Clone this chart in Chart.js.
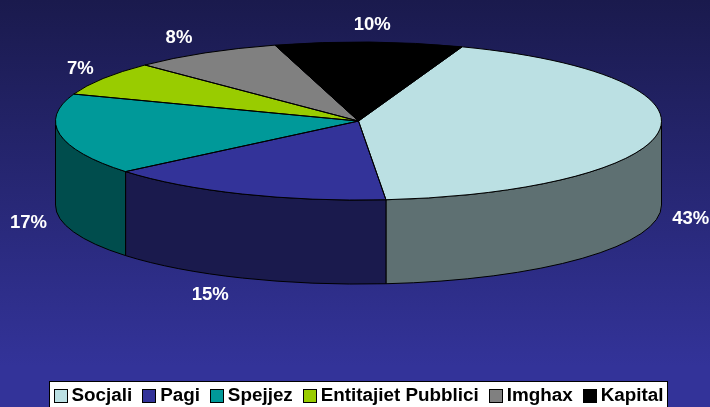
<!DOCTYPE html>
<html>
<head>
<meta charset="utf-8">
<style>
    html, body { margin: 0; padding: 0; width: 710px; height: 407px; overflow: hidden; }
    body { background: linear-gradient(to bottom, #1a1a4d 0%, #333399 90%); }
    /* taller than the window so the pie centre lands high up, legend runs off the bottom */
    #chartBox { position: absolute; left: 0; top: -134px; width: 710px; height: 549px; }
</style>
<script src="https://cdn.jsdelivr.net/npm/chart.js@4.4.0/dist/chart.umd.min.js"></script>
</head>
<body>
<div id="chartBox"><canvas id="budgetChart"></canvas></div>
<script>
// Chart data
const categories = ['Socjali', 'Pagi', 'Spejjez', 'Entitajiet Pubblici', 'Imghax', 'Kapital'];
const shares = [43, 15.4, 16.6, 7, 8, 10];
const sliceColors = ['#BBE0E3', '#333399', '#009999', '#99CC00', '#808080', '#000000'];
const sideColors = ['#5E7072', '#1A1A4D', '#004D4D', '#4D6600', '#404040', '#000000'];

// Look of the tilted pie
const tilt = 79 / 303;
const depth = 84;
const pieRadius = 303;
const labelShift = [0, -20, 0, 4, -10, 2];
const swatchSize = 13;

function sliceOutline(ctx, arc) {
    const ry = arc.outerRadius * tilt;
    ctx.beginPath();
    ctx.moveTo(arc.x, arc.y);
    ctx.ellipse(arc.x, arc.y, arc.outerRadius, ry, 0, arc.startAngle, arc.endAngle);
    ctx.closePath();
}

// Squash the pie and draw the wall under it
const tiltPlugin = {
    id: 'tiltPlugin',
    beforeDatasetsDraw(chart) {
        const ctx = chart.ctx;
        const arcs = chart.getDatasetMeta(0).data;

        arcs.forEach((arc, i) => {
            const from = Math.max(arc.startAngle, 0);
            const to = Math.min(arc.endAngle, Math.PI);
            if (to <= from) return;
            const ry = arc.outerRadius * tilt;
            ctx.beginPath();
            ctx.ellipse(arc.x, arc.y, arc.outerRadius, ry, 0, from, to);
            ctx.ellipse(arc.x, arc.y + depth, arc.outerRadius, ry, 0, to, from, true);
            ctx.closePath();
            ctx.fillStyle = sideColors[i];
            ctx.fill();
            ctx.strokeStyle = '#000';
            ctx.lineWidth = 1;
            ctx.stroke();
        });

        const first = arcs[0];
        ctx.save();
        ctx.translate(first.x, first.y);
        ctx.scale(1, tilt);
        ctx.translate(-first.x, -first.y);
    },
    afterDatasetsDraw(chart) {
        const ctx = chart.ctx;
        ctx.restore();
        chart.getDatasetMeta(0).data.forEach(arc => {
            sliceOutline(ctx, arc);
            ctx.strokeStyle = '#000';
            ctx.lineWidth = 1;
            ctx.stroke();
        });
    }
};

// White box behind the legend, and the legend squares closer to their text
const legendBoxPlugin = {
    id: 'legendBoxPlugin',
    beforeDraw(chart) {
        const ctx = chart.ctx;
        const legend = chart.legend;
        const boxes = legend.legendHitBoxes;
        const left = Math.round(boxes[0].left - 5);
        const last = boxes[boxes.length - 1];
        const right = Math.round(last.left + last.width + 4);
        const top = Math.round(legend.top + 5);
        ctx.fillStyle = '#fff';
        ctx.strokeStyle = '#000';
        ctx.lineWidth = 1;
        ctx.fillRect(left, top, right - left, legend.height);
        ctx.strokeRect(left + 0.5, top + 0.5, right - left, legend.height);
    },
    afterDraw(chart) {
        const ctx = chart.ctx;
        chart.legend.legendHitBoxes.forEach((box, i) => {
            const x = Math.round(box.left) + 0.5;
            const y = Math.round(box.top + (box.height - swatchSize) / 2) + 0.5;
            ctx.fillStyle = sliceColors[i];
            ctx.strokeStyle = '#000';
            ctx.lineWidth = 1;
            ctx.fillRect(x, y, swatchSize, swatchSize);
            ctx.strokeRect(x, y, swatchSize, swatchSize);
        });
    }
};

// Percent labels around the pie
const percentPlugin = {
    id: 'percentPlugin',
    afterDraw(chart) {
        const ctx = chart.ctx;
        ctx.font = 'bold 18.5px "Liberation Sans"';
        ctx.fillStyle = '#fff';
        ctx.textAlign = 'center';
        ctx.textBaseline = 'middle';
        chart.getDatasetMeta(0).data.forEach((arc, i) => {
            const mid = (arc.startAngle + arc.endAngle) / 2;
            const x = arc.x + (arc.outerRadius + 32) * Math.cos(mid) + labelShift[i];
            const ry = arc.outerRadius * tilt + 17;
            let y = arc.y + ry * Math.sin(mid);
            if (Math.sin(mid) > 0) y += depth + 1;
            ctx.fillText(Math.round(shares[i]) + '%', x, y);
        });
    }
};

new Chart(document.getElementById('budgetChart'), {
    type: 'pie',
    data: {
        labels: categories,
        datasets: [{
            data: shares,
            backgroundColor: sliceColors,
            borderWidth: 0,
            clip: false
        }]
    },
    options: {
        responsive: true,
        maintainAspectRatio: false,
        animation: false,
        rotation: 20,
        radius: pieRadius,
        layout: {
            padding: { left: 7 }
        },
        plugins: {
            tooltip: { enabled: false },
            legend: {
                position: 'bottom',
                labels: {
                    color: '#000',
                    boxWidth: 8.5,
                    boxHeight: 13,
                    padding: 10,
                    font: { family: '"Liberation Sans"', size: 18.85, weight: 'bold' },
                    generateLabels(chart) {
                        const items = Chart.overrides.pie.plugins.legend.labels.generateLabels(chart);
                        items.forEach(item => {
                            item.fillStyle = 'rgba(0,0,0,0)';
                            item.strokeStyle = 'rgba(0,0,0,0)';
                            item.lineWidth = 0;
                        });
                        return items;
                    }
                }
            }
        }
    },
    plugins: [tiltPlugin, legendBoxPlugin, percentPlugin]
});
</script>
</body>
</html>
